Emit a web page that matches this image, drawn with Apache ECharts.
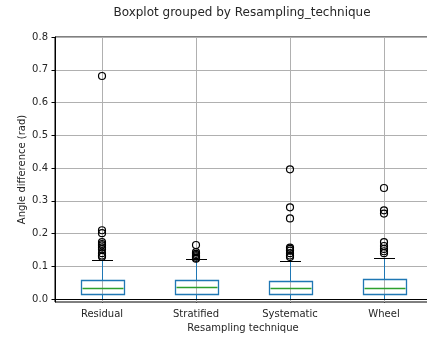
<!DOCTYPE html>
<html>
<head>
<meta charset="utf-8">
<script src="https://cdn.jsdelivr.net/npm/echarts@6/dist/echarts.min.js"></script>
<style>
  html, body { margin: 0; padding: 0; background: #fff; }
  #chart { width: 427px; height: 337px; }
</style>
</head>
<body>
<div id="chart"></div>
<script>
// Resampling techniques on the x axis
const categories = ['Residual', 'Stratified', 'Systematic', 'Wheel'];

// Box statistics per technique: [lower whisker, Q1, median, Q3, upper whisker]
const residualStats   = [0.000, 0.014, 0.031, 0.058, 0.118];
const stratifiedStats = [0.000, 0.014, 0.034, 0.058, 0.121];
const systematicStats = [0.000, 0.013, 0.032, 0.055, 0.115];
const wheelStats      = [0.000, 0.014, 0.032, 0.059, 0.125];

// Points beyond the whiskers
const residualFliers   = [0.681, 0.210, 0.201, 0.174, 0.168, 0.164, 0.158, 0.152, 0.140, 0.133, 0.129];
const stratifiedFliers = [0.165, 0.143, 0.138, 0.134, 0.130, 0.126, 0.123];
const systematicFliers = [0.396, 0.280, 0.246, 0.157, 0.153, 0.148, 0.140, 0.133, 0.128];
const wheelFliers      = [0.339, 0.271, 0.261, 0.174, 0.162, 0.153, 0.146, 0.140];

// Y axis tick labels
const yTicks = [0, 0.1, 0.2, 0.3, 0.4, 0.5, 0.6, 0.7, 0.8];

const allStats  = [residualStats, stratifiedStats, systematicStats, wheelStats];
const allFliers = [residualFliers, stratifiedFliers, systematicFliers, wheelFliers];

const boxData = allStats.map((s, i) => [i].concat(s));
const flierData = [];
allFliers.forEach((arr, i) => arr.forEach(v => flierData.push([i, v])));

const FONT = 'DejaVu Sans';
const TEXT = '#262626';
const BLUE = '#1f77b4';
const GREEN = '#2ca02c';

const yMin = -0.009, yMax = 0.8;
const crisp = v => Math.round(v - 0.5) + 0.5;

function renderBox(params, api) {
  const i = api.value(0);
  const band = api.size([1, 0])[0];
  const hw = band * 0.225;   // half box width
  const cw = hw / 2;         // half cap width
  const x = crisp(api.coord([i, 0])[0]);
  const y = k => crisp(api.coord([i, api.value(k)])[1]);
  const lo = y(1), q1 = y(2), md = y(3), q3 = y(4), hi = y(5);
  const xl = Math.round(x - hw) + 0.5, xr = Math.round(x + hw) + 0.5;
  const line = (x1, y1, x2, y2, color, w) => ({
    type: 'line', shape: { x1, y1, x2, y2 },
    style: { stroke: color, lineWidth: w || 1, fill: null }
  });
  return {
    type: 'group',
    children: [
      line(x, q1, x, lo, BLUE),
      line(x, q3, x, hi, BLUE),
      line(Math.round(x - cw), lo, Math.round(x + cw), lo, '#000'),
      line(Math.round(x - cw), hi, Math.round(x + cw), hi, '#000'),
      { type: 'rect', shape: { x: xl, y: q3, width: xr - xl, height: q1 - q3 },
        style: { fill: null, stroke: BLUE, lineWidth: 1.3 } },
      line(xl + 1, md, xr - 1, md, GREEN, 1.3)
    ]
  };
}

// vertical grid lines through each category
function renderVGrid(params, api) {
  const i = api.value(0);
  const x = crisp(api.coord([i, 0])[0]);
  const top = api.coord([i, yMax])[1];
  const bot = api.coord([i, yMin])[1];
  return { type: 'line', shape: { x1: x, y1: top, x2: x, y2: bot },
           style: { stroke: '#b0b0b0', lineWidth: 1 } };
}

const chart = echarts.init(document.getElementById('chart'), null, { renderer: 'canvas' });
chart.setOption({
  animation: false,
  backgroundColor: '#fff',
  textStyle: { fontFamily: FONT },
  graphic: [{
    type: 'text', x: 242, y: 13,
    style: { text: 'Boxplot grouped by Resampling_technique', font: '12px "DejaVu Sans"',
             fill: TEXT, textAlign: 'center', textVerticalAlign: 'middle' }
  }],
  grid: {
    left: 55, top: 37, width: 376, height: 265,
    outerBoundsMode: 'none', containLabel: false,
    show: true, borderColor: '#000', borderWidth: 1, backgroundColor: 'transparent'
  },
  xAxis: {
    type: 'category',
    data: categories,
    name: 'Resampling technique',
    nameLocation: 'middle',
    nameGap: 21,
    nameMoveOverlap: false,
    nameTextStyle: { fontSize: 10, color: TEXT, fontFamily: FONT, verticalAlign: 'top' },
    axisLine: { show: true, lineStyle: { color: '#000', width: 1 } },
    axisTick: { show: true, alignWithLabel: true, length: 3.5, lineStyle: { color: '#000' } },
    axisLabel: { fontSize: 10, color: TEXT, fontFamily: FONT, margin: 7 },
    splitLine: { show: false }
  },
  yAxis: {
    type: 'value',
    min: yMin, max: yMax,
    name: 'Angle difference (rad)',
    nameLocation: 'middle',
    nameGap: 28,
    nameMoveOverlap: false,
    nameTextStyle: { fontSize: 10, color: TEXT, fontFamily: FONT },
    axisLine: { show: true, lineStyle: { color: '#000', width: 1 } },
    axisTick: { show: true, length: 3.5, customValues: yTicks, lineStyle: { color: '#000' } },
    axisLabel: { fontSize: 10, color: TEXT, fontFamily: FONT, margin: 7,
                 customValues: yTicks, formatter: v => v.toFixed(1) },
    splitLine: { show: true, lineStyle: { color: '#b0b0b0', width: 1 } }
  },
  series: [
    { type: 'custom', renderItem: renderVGrid, data: categories.map((c, i) => [i]),
      z: 1, silent: true, clip: false },
    { type: 'custom', renderItem: renderBox, data: boxData, z: 3, clip: false,
      encode: { x: 0, y: [1, 2, 3, 4, 5] } },
    { type: 'scatter', data: flierData, symbol: 'circle', symbolSize: 7, z: 4,
      itemStyle: { color: 'rgba(0,0,0,0)', borderColor: '#000', borderWidth: 1.2, opacity: 1 } }
  ]
});
</script>
</body>
</html>
